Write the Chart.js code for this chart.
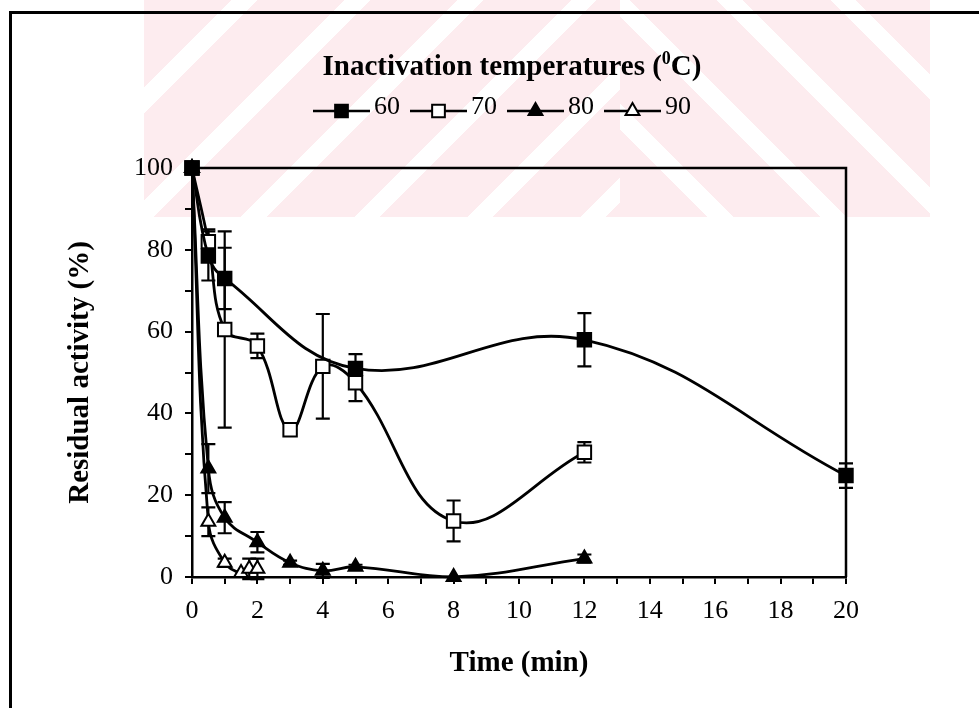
<!DOCTYPE html>
<html><head><meta charset="utf-8">
<script src="https://cdn.jsdelivr.net/npm/chart.js@4.4.1/dist/chart.umd.min.js"></script>
<style>
html,body{margin:0;padding:0;background:#fff;}
#wrap{position:relative;width:979px;height:708px;overflow:hidden;background:#fff;}
.wm{position:absolute;top:0;height:217px;}
#wmL{left:144px;width:476px;background:repeating-linear-gradient(135deg,#fdecef 0 62px,#fff 62px 80px);}
#wmR{left:620px;width:310px;background:repeating-linear-gradient(45deg,#fdecef 0 62px,#fff 62px 80px);}
#frame{position:absolute;left:9px;top:11px;width:1100px;height:900px;border-left:3px solid #000;border-top:3px solid #000;}
canvas{position:absolute;left:0;top:0;}
</style></head>
<body><div id="wrap"><div class="wm" id="wmL"></div><div class="wm" id="wmR"></div><div id="frame"></div><canvas id="c" width="979" height="708"></canvas></div>
<script>
// ---- data ----
const LEGEND_TITLE = 'Inactivation temperatures (';
const LEGEND_SUP = '0';
const LEGEND_TAIL = 'C)';
const SERIES_LABELS = ['60', '70', '80', '90'];

const TIME_60 = [0, 0.5, 1, 5, 12, 20];
const ACT_60  = [100, 78.5, 73, 51, 58, 24.8];
const ERR_60  = [0, 6, 7.5, 3.5, 6.5, 3];

const TIME_70 = [0, 0.5, 1, 2, 3, 4, 5, 8, 12];
const ACT_70  = [100, 82, 60.5, 56.5, 36, 51.5, 47.5, 13.7, 30.5];
const ERR_70  = [0, 3, 24, 3, 1, 12.8, 4.5, 5, 2.5];

const TIME_80 = [0, 0.5, 1, 2, 3, 4, 5, 8, 12];
const ACT_80  = [100, 26.5, 14.5, 8.5, 3.5, 1.5, 2.5, 0, 4.5];
const ERR_80  = [0, 6, 3.8, 2.5, 0.5, 1.7, 0.5, 0, 1];

const TIME_90 = [0, 0.5, 1, 1.5, 1.75, 2];
const ACT_90  = [100, 13.5, 3.5, 1, 2, 2];
const ERR_90  = [0, 3.5, 1, 0, 2.5, 2.5];

const X_TITLE = 'Time (min)';
const Y_TITLE = 'Residual activity (%)';

const FONT = "'Liberation Serif', 'Times New Roman', serif";
const INK = '#000';

function pts(xs, ys) { return xs.map((x, i) => ({x: x, y: ys[i]})); }

const STYLES = [
  {pointStyle: 'rect', fill: INK, radius: 9.5},
  {pointStyle: 'rect', fill: '#fff', radius: 9.5},
  {pointStyle: 'triangle', fill: INK, radius: 8},
  {pointStyle: 'triangle', fill: '#fff', radius: 8}
];
const SERIES = [[TIME_60, ACT_60, ERR_60], [TIME_70, ACT_70, ERR_70], [TIME_80, ACT_80, ERR_80], [TIME_90, ACT_90, ERR_90]];

const datasets = SERIES.map((s, i) => ({
  label: SERIES_LABELS[i],
  data: pts(s[0], s[1]),
  errors: s[2],
  borderColor: INK,
  borderWidth: 2.8,
  tension: 0.4,
  pointStyle: STYLES[i].pointStyle,
  pointRadius: STYLES[i].radius,
  pointBackgroundColor: STYLES[i].fill,
  pointBorderColor: INK,
  pointBorderWidth: 2,
  clip: false
}));

function drawMarker(ctx, style, x, y, r, fill) {
  ctx.save();
  ctx.beginPath();
  if (style === 'rect') {
    const s = Math.SQRT1_2 * r;
    ctx.rect(x - s, y - s, 2 * s, 2 * s);
  } else {
    ctx.moveTo(x, y - r);
    ctx.lineTo(x + 0.866 * r, y + 0.5 * r);
    ctx.lineTo(x - 0.866 * r, y + 0.5 * r);
    ctx.closePath();
  }
  ctx.fillStyle = fill; ctx.fill();
  ctx.lineWidth = 2; ctx.strokeStyle = INK; ctx.stroke();
  ctx.restore();
}

const errorBars = {
  id: 'errorBars',
  beforeDatasetsDraw(chart) {
    const {ctx, scales: {x, y}} = chart;
    ctx.save();
    ctx.strokeStyle = INK; ctx.lineWidth = 2.2;
    chart.data.datasets.forEach(ds => {
      ds.data.forEach((p, i) => {
        const e = ds.errors[i];
        if (!e) return;
        const px = x.getPixelForValue(p.x);
        const y1 = y.getPixelForValue(p.y + e), y2 = y.getPixelForValue(p.y - e);
        ctx.beginPath();
        ctx.moveTo(px, y1); ctx.lineTo(px, y2);
        ctx.moveTo(px - 7, y1); ctx.lineTo(px + 7, y1);
        ctx.moveTo(px - 7, y2); ctx.lineTo(px + 7, y2);
        ctx.stroke();
      });
    });
    ctx.restore();
  }
};

const frameAndLegend = {
  id: 'frameAndLegend',
  afterDraw(chart) {
    const {ctx, chartArea: a} = chart;
    ctx.save();
    ctx.strokeStyle = INK; ctx.lineWidth = 2.5;
    ctx.beginPath();
    ctx.moveTo(a.left, a.top); ctx.lineTo(a.right, a.top); ctx.lineTo(a.right, a.bottom);
    ctx.stroke();
    // legend title
    const cx = 512, by = 75;
    ctx.fillStyle = INK; ctx.textBaseline = 'alphabetic'; ctx.textAlign = 'left';
    const fMain = 'bold 29px ' + FONT, fSup = 'bold 18px ' + FONT;
    ctx.font = fMain; const w1 = ctx.measureText(LEGEND_TITLE).width, w3 = ctx.measureText(LEGEND_TAIL).width;
    ctx.font = fSup; const w2 = ctx.measureText(LEGEND_SUP).width;
    let sx = cx - (w1 + w2 + w3) / 2;
    ctx.font = fMain; ctx.fillText(LEGEND_TITLE, sx, by);
    ctx.font = fSup; ctx.fillText(LEGEND_SUP, sx + w1, by - 11);
    ctx.font = fMain; ctx.fillText(LEGEND_TAIL, sx + w1 + w2, by);
    // legend items
    let lx = 313; const ly = 111;
    ctx.font = '26px ' + FONT; ctx.textBaseline = 'middle';
    chart.data.datasets.forEach((ds, i) => {
      ctx.strokeStyle = INK; ctx.lineWidth = 2.5;
      ctx.beginPath(); ctx.moveTo(lx, ly); ctx.lineTo(lx + 57, ly); ctx.stroke();
      drawMarker(ctx, STYLES[i].pointStyle, lx + 28.5, ly, STYLES[i].pointStyle === 'rect' ? 9 : 8, STYLES[i].fill);
      ctx.fillStyle = INK;
      ctx.fillText(ds.label, lx + 61, ly - 4);
      lx += 61 + ctx.measureText(ds.label).width + 10;
    });
    ctx.restore();
  }
};

const tickFont = {family: FONT, size: 26};
const titleFont = {family: FONT, size: 29, weight: 'bold'};

new Chart(document.getElementById('c'), {
  type: 'line',
  data: {datasets: datasets},
  options: {
    responsive: false,
    devicePixelRatio: 1,
    animation: false,
    layout: {padding: {left: 59, top: 168, right: 133, bottom: 23}},
    plugins: {legend: {display: false}, tooltip: {enabled: false}},
    scales: {
      x: {
        type: 'linear', min: 0, max: 20,
        afterFit(s) { s.height = 108; },
        ticks: {stepSize: 1, autoSkip: false, maxRotation: 0, padding: 12, color: INK, font: tickFont,
          callback: v => (v % 2 === 0 ? String(v) : '')},
        grid: {drawOnChartArea: false, drawTicks: true, tickLength: 7, color: INK, lineWidth: 2},
        border: {display: true, color: INK, width: 2.5},
        title: {display: true, text: X_TITLE, color: INK, font: titleFont, padding: 4}
      },
      y: {
        min: 0, max: 100,
        afterFit(s) { s.width = 133; },
        ticks: {stepSize: 10, padding: 12, color: INK, font: tickFont,
          callback: v => (v % 20 === 0 ? String(v) : '')},
        grid: {drawOnChartArea: false, drawTicks: true, tickLength: 7, color: INK, lineWidth: 2},
        border: {display: true, color: INK, width: 2.5},
        title: {display: true, text: Y_TITLE, color: INK, font: titleFont, padding: 4}
      }
    }
  },
  plugins: [errorBars, frameAndLegend]
});
</script>
</body></html>
